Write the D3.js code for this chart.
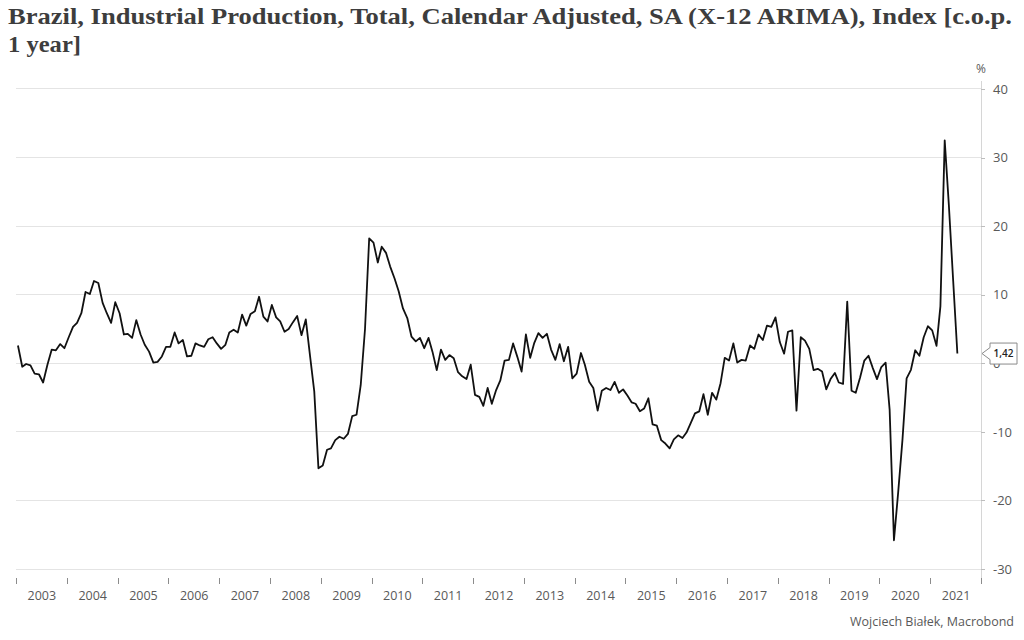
<!DOCTYPE html>
<html>
<head>
<meta charset="utf-8">
<script src="https://cdn.jsdelivr.net/npm/d3@7"></script>
<style>
  html, body { margin: 0; padding: 0; background: #fff; }
  svg { display: block; }
</style>
</head>
<body>
<svg id="chart" width="1024" height="640"></svg>
<script>
// ---- data ----
const titleLines = ["Brazil, Industrial Production, Total, Calendar Adjusted, SA (X-12 ARIMA), Index [c.o.p.", "1 year]"];
const sourceText = "Wojciech Białek, Macrobond";
const unitLabel = "%";
const startYear = 2003;           // first observation: January 2003, monthly
const values = [
  // 2003
  2.6, -0.5, -0.1, -0.3, -1.5, -1.6, -2.8, -0.2, 2.0, 1.9, 2.8, 2.2,
  // 2004
  3.8, 5.3, 5.9, 7.3, 10.4, 10.1, 12.0, 11.7, 8.8, 7.3, 5.9, 8.9,
  // 2005
  7.3, 4.2, 4.3, 3.7, 6.3, 4.2, 2.7, 1.7, 0.1, 0.2, 1.0, 2.4,
  // 2006
  2.4, 4.5, 2.9, 3.4, 1.0, 1.1, 2.9, 2.6, 2.4, 3.5, 3.8, 2.9,
  // 2007
  2.1, 2.7, 4.5, 4.9, 4.5, 7.1, 5.5, 7.2, 7.6, 9.7, 6.8, 6.1,
  // 2008
  8.5, 6.7, 6.1, 4.6, 5.0, 6.0, 6.9, 4.1, 6.4, 1.2, -4.1, -15.3,
  // 2009
  -14.9, -12.6, -12.4, -11.2, -10.7, -11.0, -10.3, -7.7, -7.5, -3.2, 5.0, 18.2,
  // 2010
  17.6, 14.7, 17.0, 16.1, 14.1, 12.4, 10.5, 8.0, 6.6, 3.9, 3.2, 3.7,
  // 2011
  2.2, 3.7, 1.7, -1.0, 2.0, 0.5, 1.2, 0.75, -1.3, -1.9, -2.3, -0.2,
  // 2012
  -4.6, -4.9, -6.2, -3.6, -5.9, -3.9, -2.5, 0.4, 0.5, 2.9, 0.9, -1.2,
  // 2013
  4.2, 0.8, 2.9, 4.4, 3.7, 4.3, 2.0, 0.5, 2.8, 0.3, 2.4, -2.2,
  // 2014
  -1.5, 1.5, -0.2, -2.7, -3.6, -6.9, -4.0, -3.6, -3.9, -2.7, -4.3, -3.8,
  // 2015
  -4.7, -5.7, -5.9, -7.0, -6.6, -5.1, -8.9, -9.1, -11.2, -11.7, -12.4, -11.1,
  // 2016
  -10.5, -10.9, -10.1, -8.7, -7.3, -7.0, -4.5, -7.5, -4.3, -5.3, -2.9, 0.8,
  // 2017
  0.4, 2.9, 0.1, 0.5, 0.4, 2.6, 2.1, 4.2, 3.4, 5.5, 5.3, 6.7,
  // 2018
  3.1, 1.4, 4.6, 4.8, -6.9, 3.8, 3.3, 2.1, -1.0, -0.8, -1.2, -3.8,
  // 2019
  -2.3, -1.4, -2.8, -3.0, 9.0, -4.0, -4.3, -2.1, 0.4, 1.1, -0.7, -2.3,
  // 2020
  -0.55, 0.1, -6.8, -25.8, -18.9, -11.2, -2.2, -0.95, 1.9, 1.1, 3.8, 5.4,
  // 2021
  4.8, 2.55, 8.3, 32.5, 23.0, 12.0, 1.42
];
const lastValueLabel = "1,42";
const yTicks = [-30, -20, -10, 0, 10, 20, 30, 40];
const yearLabels = [2003, 2004, 2005, 2006, 2007, 2008, 2009, 2010, 2011, 2012,
                    2013, 2014, 2015, 2016, 2017, 2018, 2019, 2020, 2021];
const yDomain = [-31.3, 41.3];

// ---- layout ----
const svg = d3.select("#chart");
const plot = { left: 16, right: 981, top: 80, bottom: 578 };
const gray = "#595959";
const sansFont = "'Open Sans', 'Liberation Sans', sans-serif";

const x = d3.scaleTime()
  .domain([new Date(yearLabels[0], 0, 1), new Date(yearLabels[yearLabels.length - 1] + 1, 0, 1)])
  .range([plot.left, plot.right]);
const y = d3.scaleLinear().domain(yDomain).range([plot.bottom, plot.top]);

const series = values.map((v, i) => ({ date: new Date(startYear, i, 15), value: v }));

// title
const title = svg.append("g")
  .attr("font-family", "'Liberation Serif', 'DejaVu Serif', serif")
  .attr("font-weight", "bold")
  .attr("font-size", 23)
  .attr("fill", "#3d3d3d");
title.append("text").attr("x", 8).attr("y", 24).text(titleLines[0])
  .attr("textLength", 1004).attr("lengthAdjust", "spacingAndGlyphs");
title.append("text").attr("x", 8).attr("y", 52).text(titleLines[1])
  .attr("textLength", 73).attr("lengthAdjust", "spacingAndGlyphs");

// gridlines
svg.append("g").selectAll("line").data(yTicks).join("line")
  .attr("x1", plot.left).attr("x2", plot.right)
  .attr("y1", d => y(d)).attr("y2", d => y(d))
  .attr("stroke", "#e4e4e4").attr("stroke-width", 1)
  .attr("shape-rendering", "crispEdges");

// right axis
const yAxis = svg.append("g")
  .attr("transform", `translate(${plot.right},0)`)
  .call(d3.axisRight(y).tickValues(yTicks).tickSize(4).tickSizeOuter(0).tickPadding(8)
        .tickFormat(d => String(d)));
yAxis.select(".domain").attr("stroke", "#d6d6d6").attr("shape-rendering", "crispEdges");
yAxis.selectAll(".tick line").attr("stroke", "#bdbdbd").attr("shape-rendering", "crispEdges");
yAxis.selectAll(".tick text")
  .attr("font-family", sansFont).attr("font-size", 13).attr("fill", gray);

// unit label
svg.append("text").attr("x", plot.right).attr("y", 73)
  .attr("text-anchor", "middle")
  .attr("font-family", sansFont).attr("font-size", 12).attr("fill", gray)
  .text(unitLabel);

// x axis ticks at year boundaries
const yearBounds = yearLabels.concat([yearLabels[yearLabels.length - 1] + 1]).map(yr => new Date(yr, 0, 1));
const xTicks = svg.append("g")
  .attr("transform", `translate(0,${plot.bottom})`)
  .call(d3.axisBottom(x).tickValues(yearBounds).tickSize(6).tickSizeOuter(0).tickFormat(() => ""));
xTicks.select(".domain").remove();
xTicks.selectAll(".tick line").attr("stroke", "#8c8c8c").attr("shape-rendering", "crispEdges");

// x labels centered in each year
const xLabels = svg.append("g")
  .attr("transform", `translate(0,${plot.bottom})`)
  .call(d3.axisBottom(x).tickValues(yearLabels.map(yr => new Date(yr, 6, 2)))
        .tickSize(0).tickPadding(13).tickFormat(d => String(d.getFullYear())));
xLabels.select(".domain").remove();
xLabels.selectAll(".tick text")
  .attr("font-family", sansFont).attr("font-size", 12.5).attr("fill", gray);

// line
const line = d3.line().x(d => x(d.date)).y(d => y(d.value));
svg.append("path").datum(series)
  .attr("d", line)
  .attr("fill", "none").attr("stroke", "#111").attr("stroke-width", 1.8)
  .attr("stroke-linejoin", "round");

// last value callout
const last = series[series.length - 1];
const ly = y(last.value);
const bx = plot.right + 9, bw = 27, bh = 21;
svg.append("path")
  .attr("d", `M${plot.right + 1},${ly} L${bx},${ly - 6} L${bx},${ly - bh / 2} L${bx + bw},${ly - bh / 2} L${bx + bw},${ly + bh / 2} L${bx},${ly + bh / 2} L${bx},${ly + 6} Z`)
  .attr("fill", "#fff").attr("stroke", "#8a8a8a").attr("stroke-width", 1);
svg.append("text").attr("x", bx + bw / 2).attr("y", ly + 3.5)
  .attr("text-anchor", "middle")
  .attr("font-family", sansFont).attr("font-size", 10).attr("font-weight", "600").attr("fill", "#222")
  .text(lastValueLabel);

// source
svg.append("text").attr("x", 1014).attr("y", 626)
  .attr("text-anchor", "end")
  .attr("font-family", sansFont).attr("font-size", 12.5).attr("fill", gray)
  .text(sourceText);
</script>
</body>
</html>
